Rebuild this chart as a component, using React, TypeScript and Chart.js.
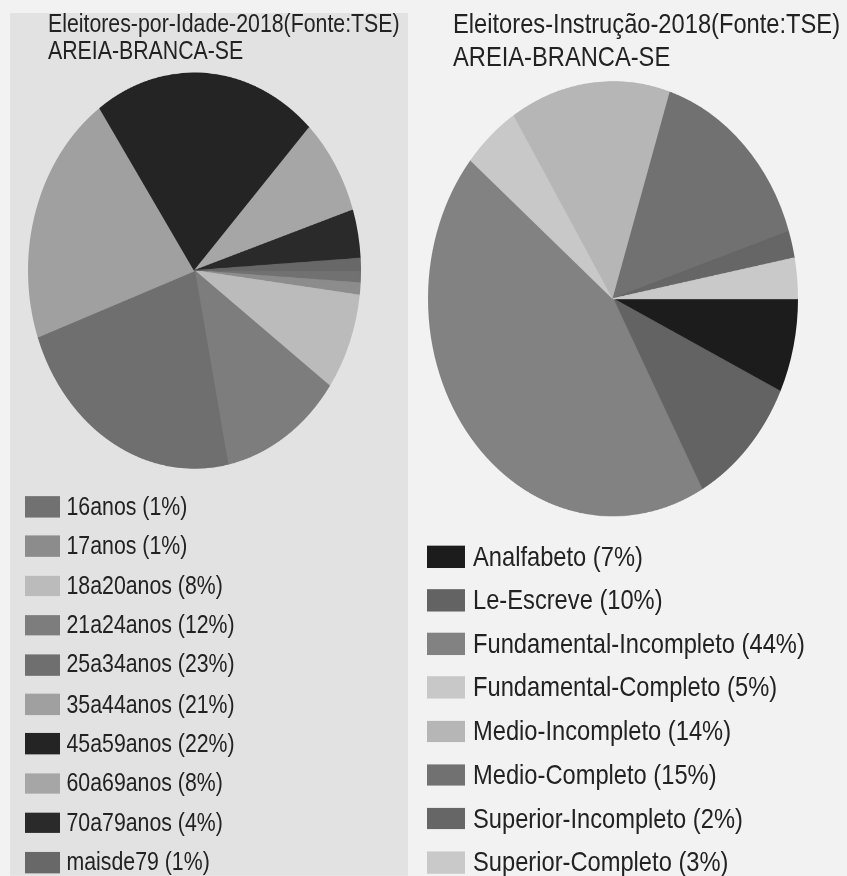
import React, { useEffect, useRef } from "react";
import { Chart, registerables } from "chart.js";

Chart.register(...registerables);

// ---- Data ----
const ageTitle = ["Eleitores-por-Idade-2018(Fonte:TSE)", "AREIA-BRANCA-SE"];
const ageLabels = [
  "16anos",
  "17anos",
  "18a20anos",
  "21a24anos",
  "25a34anos",
  "35a44anos",
  "45a59anos",
  "60a69anos",
  "70a79anos",
  "maisde79",
];
const ageValues = [1, 1, 8, 12, 23, 21, 22, 8, 4, 1];
const ageColors = [
  "#717171",
  "#8c8c8c",
  "#bbbbbb",
  "#7d7d7d",
  "#6f6f6f",
  "#a0a0a0",
  "#242424",
  "#a6a6a6",
  "#2a2a2a",
  "#686868",
];

const eduTitle = ["Eleitores-Instrução-2018(Fonte:TSE)", "AREIA-BRANCA-SE"];
const eduLabels = [
  "Analfabeto",
  "Le-Escreve",
  "Fundamental-Incompleto",
  "Fundamental-Completo",
  "Medio-Incompleto",
  "Medio-Completo",
  "Superior-Incompleto",
  "Superior-Completo",
];
const eduValues = [7, 10, 44, 5, 14, 15, 2, 3];
const eduColors = [
  "#1c1c1c",
  "#636363",
  "#828282",
  "#c8c8c8",
  "#b6b6b6",
  "#717171",
  "#666666",
  "#c9c9c9",
];

const FONT = '"Liberation Sans", Arial, Helvetica, sans-serif';
const TEXT_COLOR = "#222222";

type PieProps = {
  labels: string[];
  values: number[];
  colors: string[];
  size: number;
  left: number;
  top: number;
};

function PieCanvas({ labels, values, colors, size, left, top }: PieProps) {
  const ref = useRef<HTMLCanvasElement | null>(null);
  useEffect(() => {
    if (!ref.current) return;
    const chart = new Chart(ref.current, {
      type: "pie",
      data: {
        labels,
        datasets: [
          {
            data: values,
            backgroundColor: colors,
            borderColor: colors,
            borderWidth: 1,
            hoverOffset: 0,
          },
        ],
      },
      options: {
        responsive: false,
        animation: false,
        devicePixelRatio: 2,
        rotation: 90,
        layout: { padding: 0 },
        events: [],
        plugins: {
          legend: { display: false },
          tooltip: { enabled: false },
          title: { display: false },
        },
      },
    });
    return () => chart.destroy();
  }, []);
  return (
    <canvas
      ref={ref}
      width={size}
      height={size}
      style={{
        position: "absolute",
        left,
        top,
        width: size,
        height: size,
        display: "block",
      }}
    />
  );
}

type PanelProps = {
  title: string[];
  labels: string[];
  values: number[];
  colors: string[];
  left: number;
  top: number;
  width: number;
  height: number;
  stretch: number;
  background: string;
  fontSize: number;
  titleLeft: number;
  titleTop: number;
  titleLineHeight: number;
  pieSize: number;
  pieLeft: number;
  pieTop: number;
  legendTop: number;
  rowHeight: number;
  boxLeft: number;
  boxW: number;
  boxH: number;
  gap: number;
};

function Panel(p: PanelProps) {
  const total = p.values.reduce((a, b) => a + b, 0);
  return (
    <div
      style={{
        position: "absolute",
        left: p.left,
        top: p.top,
        width: p.width,
        height: p.height,
        background: p.background,
        transform: `scaleY(${p.stretch})`,
        transformOrigin: "top left",
        fontFamily: FONT,
        color: TEXT_COLOR,
      }}
    >
      <div
        style={{
          position: "absolute",
          left: p.titleLeft,
          top: p.titleTop,
          fontSize: p.fontSize,
          lineHeight: `${p.titleLineHeight}px`,
          whiteSpace: "nowrap",
        }}
      >
        {p.title.map((t, i) => (
          <div key={i}>{t}</div>
        ))}
      </div>
      <PieCanvas
        labels={p.labels}
        values={p.values}
        colors={p.colors}
        size={p.pieSize}
        left={p.pieLeft}
        top={p.pieTop}
      />
      <div style={{ position: "absolute", left: 0, top: p.legendTop }}>
        {p.labels.map((l, i) => (
          <div
            key={l}
            style={{
              display: "flex",
              alignItems: "center",
              height: p.rowHeight,
              whiteSpace: "nowrap",
            }}
          >
            <span
              style={{
                display: "inline-block",
                marginLeft: p.boxLeft,
                width: p.boxW,
                height: p.boxH,
                background: p.colors[i],
                marginRight: p.gap,
                flex: "none",
              }}
            />
            <span style={{ fontSize: p.fontSize, lineHeight: "normal" }}>
              {`${l} (${Math.round((p.values[i] / total) * 100)}%)`}
            </span>
          </div>
        ))}
      </div>
    </div>
  );
}

export default function App() {
  return (
    <div
      style={{
        position: "absolute",
        left: 0,
        top: 0,
        width: 847,
        height: 876,
        overflow: "hidden",
        background: "#f2f2f2",
      }}
    >
      <Panel
        title={ageTitle}
        labels={ageLabels}
        values={ageValues}
        colors={ageColors}
        left={10}
        top={13}
        width={398}
        height={725}
        stretch={1.19}
        background="#e2e2e2"
        fontSize={21.3}
        titleLeft={38}
        titleTop={-2}
        titleLineHeight={23}
        pieSize={333}
        pieLeft={17.5}
        pieTop={50}
        legendTop={398.5}
        rowHeight={33.2}
        boxLeft={15}
        boxW={35}
        boxH={17.6}
        gap={6.5}
      />
      <Panel
        title={eduTitle}
        labels={eduLabels}
        values={eduValues}
        colors={eduColors}
        left={415}
        top={0}
        width={432}
        height={745}
        stretch={1.176}
        background="transparent"
        fontSize={23.7}
        titleLeft={38}
        titleTop={7.2}
        titleLineHeight={27.5}
        pieSize={370}
        pieLeft={12.5}
        pieTop={69.3}
        legendTop={455}
        rowHeight={37.1}
        boxLeft={12}
        boxW={38}
        boxH={18.7}
        gap={8}
      />
    </div>
  );
}
